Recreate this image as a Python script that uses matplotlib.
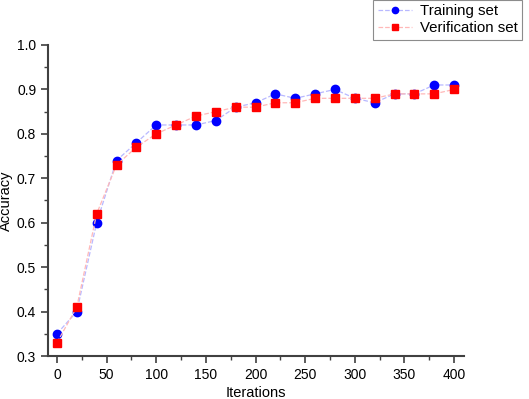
import numpy as np
import matplotlib
matplotlib.use("Agg")
import matplotlib.pyplot as plt
from matplotlib.ticker import MultipleLocator

plt.rcParams['font.family'] = ['Liberation Sans', 'DejaVu Sans']

# valores
iteracoes = [0, 20, 40, 60, 80, 100, 120, 140, 160, 180, 200,
             220, 240, 260, 280, 300, 320, 340, 360, 380, 400]
treino = [0.35, 0.40, 0.60, 0.74, 0.78, 0.82, 0.82, 0.82, 0.83, 0.86, 0.87,
          0.89, 0.88, 0.89, 0.90, 0.88, 0.87, 0.89, 0.89, 0.91, 0.91]
verificacao = [0.33, 0.41, 0.62, 0.73, 0.77, 0.80, 0.82, 0.84, 0.85, 0.86, 0.86,
               0.87, 0.87, 0.88, 0.88, 0.88, 0.88, 0.89, 0.89, 0.89, 0.90]

fig = plt.figure(figsize=(5.29, 3.99), dpi=100)
ax = fig.add_axes([48/529, 43/399, 416/529, 311/399])

ax.plot(iteracoes, treino, color="#b8b8ff", ls="--", lw=0.9,
        marker="o", ms=6, mfc="blue", mec="blue", label="Training set")
ax.plot(iteracoes, verificacao, color="#ffb8b8", ls="--", lw=0.9,
        marker="s", ms=5.2, mfc="red", mec="red", label="Verification set")

ax.set_xlim(-9, 410)
ax.set_ylim(0.3, 1.0)
ax.xaxis.set_major_locator(MultipleLocator(50))
ax.xaxis.set_minor_locator(MultipleLocator(25))
ax.yaxis.set_major_locator(MultipleLocator(0.1))
ax.yaxis.set_minor_locator(MultipleLocator(0.05))
ax.yaxis.set_major_formatter(plt.FuncFormatter(lambda v, p: f"{v:.1f}"))

for lado in ["top", "right"]:
    ax.spines[lado].set_visible(False)
for lado in ["left", "bottom"]:
    ax.spines[lado].set_color("#404040")
    ax.spines[lado].set_linewidth(1.5)
ax.tick_params(which="major", direction="out", length=5, width=1.2,
               color="#404040", labelsize=10)
ax.tick_params(which="minor", direction="out", length=3, width=1.0,
               color="#404040")

ax.set_xlabel("Iterations", fontsize=10.5, labelpad=3)
ax.set_ylabel("Accuracy", fontsize=10.5, labelpad=3)

leg = fig.legend(loc="upper right", bbox_to_anchor=(522/529, 1.0),
                 fontsize=10.8, frameon=True, fancybox=False, markerscale=0.75,
                 borderpad=0.3, handlelength=2.3, handletextpad=0.5,
                 labelspacing=0.2, borderaxespad=0)
leg.get_frame().set_edgecolor("#707070")
leg.get_frame().set_linewidth(0.8)

fig.savefig("out.png", dpi=100)
